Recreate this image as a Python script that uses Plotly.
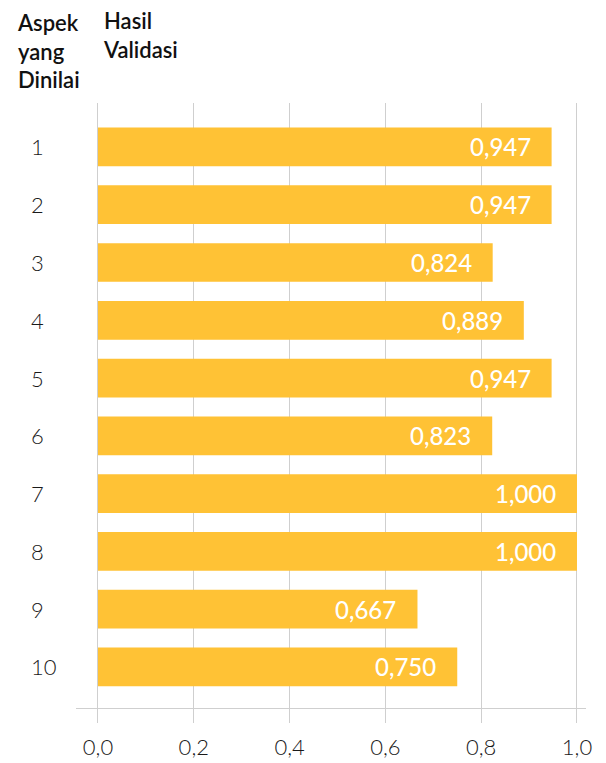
import plotly.graph_objects as go

categories = ["1", "2", "3", "4", "5", "6", "7", "8", "9", "10"]
values = [0.947, 0.947, 0.824, 0.889, 0.947, 0.823, 1.000, 1.000, 0.667, 0.750]
value_labels = ["0,947", "0,947", "0,824", "0,889", "0,947", "0,823", "1,000", "1,000", "0,667", "0,750"]
x_tickvals = [0, 0.2, 0.4, 0.6, 0.8, 1.0]
x_ticktext = ["0,0", "0,2", "0,4", "0,6", "0,8", "1,0"]

FONT = "Lato"
BAR = "#FFC235"
GRID = "#CFCFCF"
TEXT = "#1A1A1A"

pos = list(range(len(categories)))

fig = go.Figure()
fig.add_trace(go.Bar(
    x=values, y=pos, orientation="h",
    marker=dict(color=BAR, line=dict(width=0)),
    width=0.67, hoverinfo="skip",
))

annotations = []
for p, v, t in zip(pos, values, value_labels):
    annotations.append(dict(x=v, y=p, xref="x", yref="y", text=t, showarrow=False,
                            xanchor="right", xshift=-19,
                            font=dict(family=FONT, size=24, color="white", weight=500)))
for p, c in zip(pos, categories):
    annotations.append(dict(x=0, y=p, xref="paper", yref="y", text=c, showarrow=False,
                            xanchor="left", xshift=-47,
                            font=dict(family=FONT, size=22, color=TEXT, weight=300)))
annotations.append(dict(x=0, y=1, xref="paper", yref="paper", text="Aspek<br>yang<br>Dinilai",
                        showarrow=False, xanchor="left", yanchor="bottom", align="left",
                        xshift=-61, yshift=8,
                        font=dict(family=FONT, size=22, color="#111111", weight=600)))
annotations.append(dict(x=0, y=1, xref="paper", yref="paper", text="Hasil<br>Validasi",
                        showarrow=False, xanchor="left", yanchor="bottom", align="left",
                        xshift=25, yshift=38,
                        font=dict(family=FONT, size=22, color="#111111", weight=600)))

fig.update_layout(
    width=606, height=763,
    margin=dict(l=68, r=28, t=95, b=63),
    paper_bgcolor="white", plot_bgcolor="white",
    showlegend=False,
    annotations=annotations,
    xaxis=dict(range=[-0.0459, 1.0188], tickvals=x_tickvals, ticktext=x_ticktext,
               showgrid=True, gridcolor=GRID, gridwidth=1, zeroline=False,
               ticks="outside", ticklen=14, tickcolor=GRID, tickwidth=1,
               ticklabelstandoff=6,
               showline=True, linecolor=GRID, linewidth=1,
               tickfont=dict(family=FONT, size=22, color=TEXT, weight=300), fixedrange=True),
    yaxis=dict(range=[9.71, -0.76], showticklabels=False, showgrid=False,
               zeroline=False, showline=False, fixedrange=True),
)

fig.write_html("out.html")
